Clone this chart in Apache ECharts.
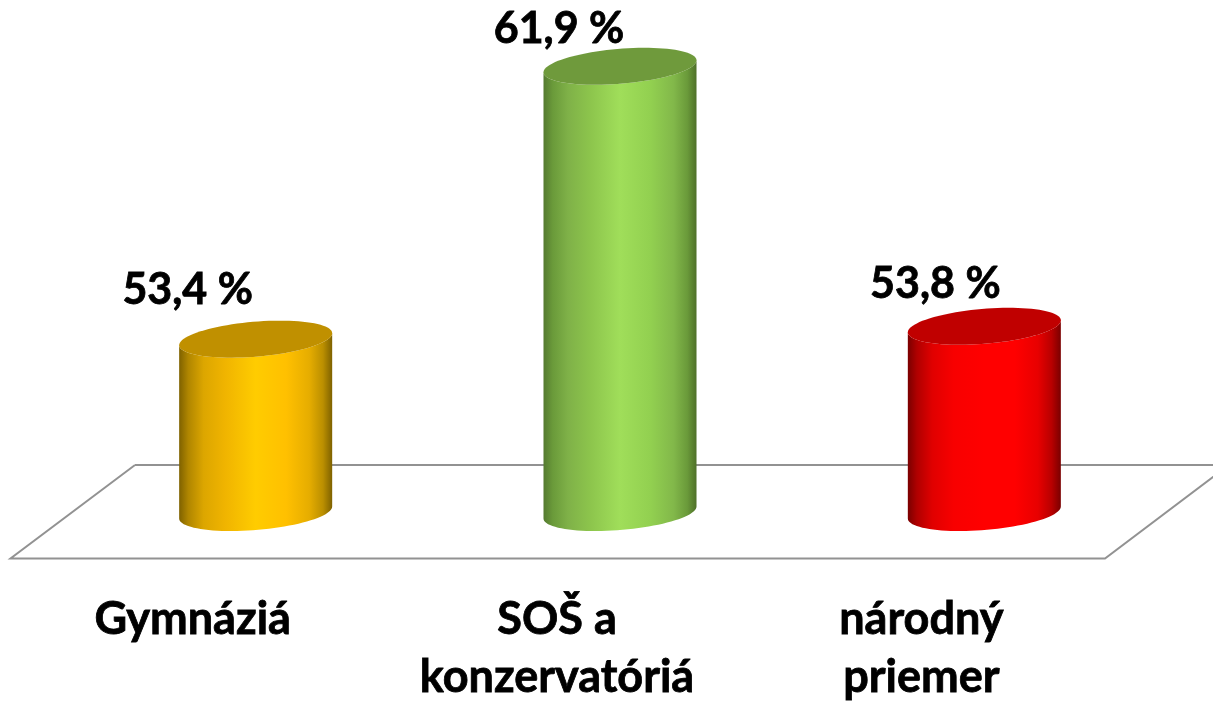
<!DOCTYPE html>
<html>
<head>
<meta charset="utf-8">
<title>chart</title>
<script src="https://cdn.jsdelivr.net/npm/echarts@6/dist/echarts.min.js"></script>
<style>
  html, body { margin: 0; padding: 0; background: #fff; }
  #chart { width: 1213px; height: 702px; }
</style>
</head>
<body>
<div id="chart"></div>
<script>
const categories = ["Gymnáziá", "SOŠ a\nkonzervatóriá", "národný\npriemer"];
const values = [53.4, 61.9, 53.8];

// side gradient stops and the darker lid, one per cylinder
const sideColors = [
  ["#7f6200", "#b08600", "#dca600", "#f0b400", "#ffcc00", "#ffc000", "#e6ad00", "#bb8f00", "#7f6200"],
  ["#557a30", "#6a9a3a", "#7fb148", "#8cc44c", "#a0de5a", "#92d050", "#82b84a", "#6a9a3a", "#4f7029"],
  ["#7a0000", "#b00000", "#e00000", "#f80000", "#ff0000", "#ff0000", "#e80000", "#b80000", "#7a0000"],
];
const lidColors = ["#c09000", "#6f9a3c", "#c00000"];
// hand placed labels in the original, relative to the lid centre
const labelOffsets = [[-68, -49], [-61, -37], [-49, -42]];

const stops = [0, 0.06, 0.16, 0.3, 0.5, 0.7, 0.85, 0.94, 1];

// tilted ellipse: shear keeps the left/right ends on the cylinder edges
function rimPoint(cx, cy, rx, t) {
  const x = rx * Math.cos(t);
  return [cx + x, cy - x * 0.0784 + 0.229 * rx * Math.sin(t)];
}

function renderCylinder(params, api) {
  const i = api.value(0);
  const value = api.value(1);
  const top = api.coord([i, value]);
  const base = api.coord([i, 48]);
  const rx = api.size([1, 0])[0] * 0.21;
  const cx = top[0];

  const lid = [];
  for (let k = 0; k < 90; k++) {
    lid.push(rimPoint(cx, top[1], rx, (k / 90) * Math.PI * 2));
  }
  // side: lower half of the bottom rim, then up the right edge and over the top
  const side = [];
  for (let k = 0; k <= 45; k++) {
    side.push(rimPoint(cx, base[1], rx, (k / 45) * Math.PI));
  }
  for (let k = 45; k >= 0; k--) {
    side.push(rimPoint(cx, top[1], rx, (k / 45) * Math.PI));
  }

  const grad = new echarts.graphic.LinearGradient(
    0, 0, 1, 0,
    stops.map((s, n) => ({ offset: s, color: sideColors[i][n] }))
  );

  return {
    type: "group",
    children: [
      { type: "polygon", shape: { points: side }, style: { fill: grad } },
      { type: "polygon", shape: { points: lid }, style: { fill: lidColors[i] } },
      {
        type: "text",
        style: {
          x: cx + labelOffsets[i][0],
          y: top[1] + labelOffsets[i][1],
          text: value.toFixed(1).replace(".", ",") + " %",
          font: "bold 43px Lato",
          fill: "#000",
          stroke: "#000",
          lineWidth: 0.8,
          align: "center",
          verticalAlign: "middle",
        },
      },
    ],
  };
}

const chart = echarts.init(document.getElementById("chart"));

const option = {
  animation: false,
  backgroundColor: "#fff",
  // outerBoundsMode off, otherwise v6 squeezes the grid to fit the labels
  grid: { left: 73.5, width: 1093, top: 31, height: 481.5, outerBoundsMode: "none" },
  // floor plane behind the cylinders
  graphic: [
    {
      type: "polyline",
      z: 0,
      shape: { points: [[135, 465], [10.5, 558.5], [1105, 558.5], [1229, 465], [135, 465]] },
      style: { stroke: "#929292", lineWidth: 2, fill: "#fff" },
    },
  ],
  xAxis: {
    type: "category",
    data: categories,
    axisLine: { show: false },
    axisTick: { show: false },
    axisLabel: {
      interval: 0,
      margin: 78,
      padding: [0, 126, 0, 0],
      fontFamily: "Lato",
      fontWeight: "bold",
      fontSize: 45,
      lineHeight: 58,
      color: "#000",
      textBorderColor: "#000",
      textBorderWidth: 0.8,
    },
  },
  yAxis: { type: "value", min: 48, max: 63, show: false },
  series: [
    {
      type: "custom",
      renderItem: renderCylinder,
      clip: false,
      data: values.map((v, i) => [i, v]),
      encode: { x: 0, y: 1 },
    },
  ],
};

chart.setOption(option);
window.onresize = () => chart.resize();
</script>
</body>
</html>
